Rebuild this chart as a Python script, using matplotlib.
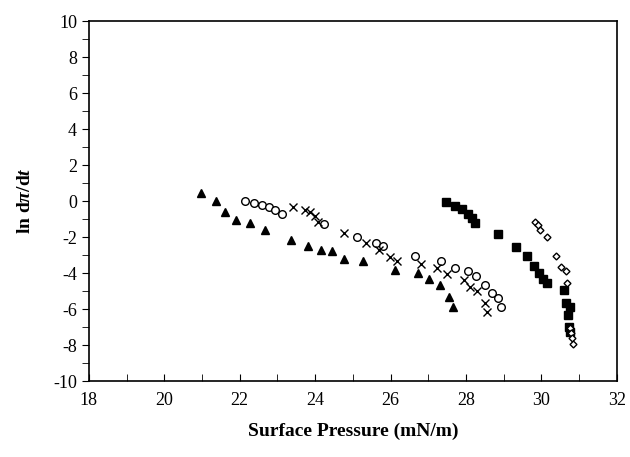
import matplotlib.pyplot as plt
from matplotlib.ticker import MultipleLocator

plt.rcParams["font.family"] = "Liberation Serif"
plt.rcParams["axes.unicode_minus"] = False
plt.rcParams["mathtext.fontset"] = "custom"
plt.rcParams["mathtext.rm"] = "Liberation Serif:bold"
plt.rcParams["mathtext.it"] = "Liberation Serif:italic:bold"
plt.rcParams["mathtext.bf"] = "Liberation Serif:bold"

# Series
tri_x = [20.97, 21.36, 21.61, 21.91, 22.28, 22.66, 23.36, 23.81, 24.16, 24.45,
         24.76, 25.27, 26.13, 26.72, 27.01, 27.30, 27.56, 27.66]
tri_y = [0.43, 0.0, -0.59, -1.06, -1.19, -1.61, -2.15, -2.52, -2.72, -2.78,
         -3.19, -3.32, -3.80, -3.98, -4.33, -4.67, -5.31, -5.91]

circ_x = [22.15, 22.39, 22.60, 22.79, 22.95, 23.11, 24.24, 25.10, 25.61, 25.80,
          26.66, 27.34, 27.71, 28.06, 28.28, 28.50, 28.69, 28.86, 28.94]
circ_y = [0.0, -0.09, -0.20, -0.33, -0.50, -0.72, -1.28, -1.98, -2.35, -2.50,
          -3.06, -3.32, -3.70, -3.89, -4.17, -4.67, -5.09, -5.41, -5.91]

cross_x = [23.42, 23.73, 23.87, 23.99, 24.08, 24.76, 25.36, 25.69, 25.99, 26.18,
           26.80, 27.23, 27.51, 27.94, 28.10, 28.30, 28.50, 28.57]
cross_y = [-0.35, -0.50, -0.63, -0.85, -1.15, -1.76, -2.32, -2.72, -3.13, -3.32,
           -3.50, -3.70, -4.07, -4.41, -4.76, -4.98, -5.68, -6.15]

sq_x = [27.48, 27.71, 27.90, 28.06, 28.15, 28.24, 28.85, 29.32, 29.61, 29.80,
        29.93, 30.05, 30.15, 30.61, 30.65, 30.76, 30.71, 30.73, 30.77]
sq_y = [-0.07, -0.26, -0.44, -0.69, -0.96, -1.24, -1.85, -2.54, -3.06, -3.61,
        -4.02, -4.30, -4.57, -4.94, -5.65, -5.87, -6.33, -6.98, -7.26]

dia_x = [29.83, 29.90, 29.96, 30.15, 30.40, 30.52, 30.65, 30.68, 30.75, 30.79,
         30.81, 30.83]
dia_y = [-1.15, -1.35, -1.61, -1.98, -3.04, -3.65, -3.87, -4.57, -7.07, -7.35,
         -7.63, -7.94]


def main():
    fig = plt.figure(figsize=(6.3, 4.57), dpi=100)
    ax = fig.add_axes([0.141, 0.166, 0.838, 0.788])

    ax.plot(tri_x, tri_y, "^", color="black", markersize=6, linestyle="none")
    ax.plot(circ_x, circ_y, "o", mfc="white", mec="black", mew=1.0,
            markersize=5.5, linestyle="none")
    ax.plot(cross_x, cross_y, "x", color="black", mew=1.0, markersize=6,
            linestyle="none")
    ax.plot(sq_x, sq_y, "s", color="black", markersize=5.5, linestyle="none")
    ax.plot(dia_x, dia_y, "D", mfc="white", mec="black", mew=1.0,
            markersize=3.5, linestyle="none")

    ax.set_xlim(18, 32)
    ax.set_ylim(-10, 10)
    ax.xaxis.set_major_locator(MultipleLocator(2))
    ax.xaxis.set_minor_locator(MultipleLocator(1))
    ax.yaxis.set_major_locator(MultipleLocator(2))
    ax.yaxis.set_minor_locator(MultipleLocator(1))
    ax.tick_params(axis="x", which="both", direction="in", length=5,
                   labelsize=13, pad=8)
    ax.tick_params(axis="y", which="both", direction="out", length=5,
                   labelsize=13)
    for s in ax.spines.values():
        s.set_linewidth(1.2)

    ax.set_xlabel("Surface Pressure (mN/m)", fontsize=14, fontweight="bold",
                  labelpad=10)
    ax.set_ylabel(r"ln d$\pi$/d$t$", fontsize=14, fontweight="bold",
                  labelpad=14)

    fig.savefig("out.png", dpi=100)
    return 0


if __name__ == "__main__":
    main()
